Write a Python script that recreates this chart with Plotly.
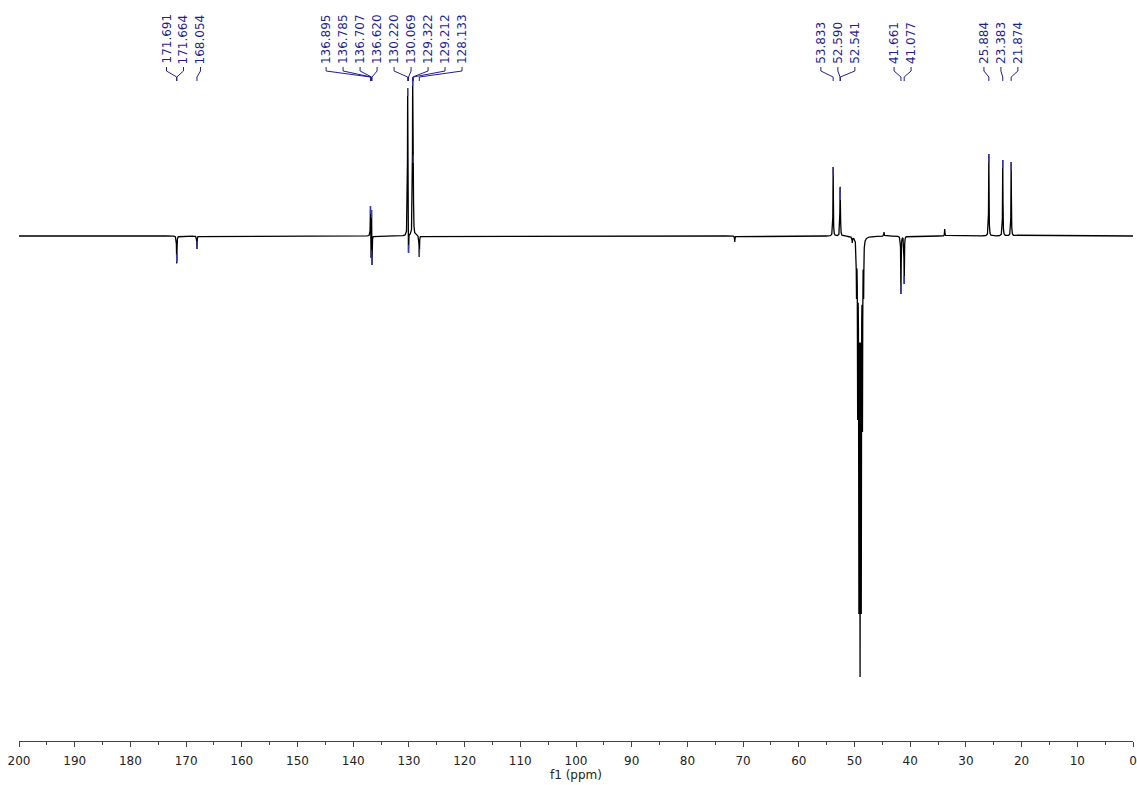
import numpy as np
import plotly.graph_objects as go

# Picked peaks (ppm) and their observed heights (positive = up, negative = inverted)
labeled_ppm = [171.691, 171.664, 168.054,
               136.895, 136.785, 136.707, 136.620,
               130.220, 130.069, 129.322, 129.212, 128.133,
               53.833, 52.590, 52.541,
               41.661, 41.077,
               25.884, 23.383, 21.874]
labeled_height = [-26, -26, -13,
                  30, -22, 26, -29,
                  148, -17, 158, 81, -21,
                  69, 48, 44,
                  -58, -48,
                  82, 76, 74]

# Unlabelled signals: small impurities and the CD3OD septet
other_ppm = [71.50, 50.40,
             49.64, 49.43, 49.21, 49.00, 48.79, 48.57, 48.36,
             44.70, 33.80]
other_height = [-6, -7,
                -63, -184, -378, -441, -378, -196, -63,
                4, 7]

x_ticks = list(range(0, 201, 10))

HWHM = 0.04          # Lorentzian half width (ppm)
LABEL_GAP = 3.05     # minimum label spacing (ppm)
LABEL_COLOR = "#1f1f8f"
MARK_COLOR = "#3b3bb8"

# --- build the spectrum from the peak table ---------------------------------
pk_ppm = np.array(labeled_ppm + other_ppm, dtype=float)
pk_h = np.array(labeled_height + other_height, dtype=float)


def lorentz(d):
    return 1.0 / (1.0 + (d / HWHM) ** 2)


# amplitudes chosen so the summed curve hits each listed height at its position
K = lorentz(pk_ppm[:, None] - pk_ppm[None, :])
amp = np.linalg.solve(K, pk_h)

grid = np.unique(np.concatenate([np.arange(0.0, 200.0001, 0.01), pk_ppm]))
spec = lorentz(grid[:, None] - pk_ppm[None, :]) @ amp


# --- label layout: spread overlapping labels around their cluster mean -------
def spread_labels(positions, gap):
    order = sorted(range(len(positions)), key=lambda i: -positions[i])
    clusters = [[i] for i in order]
    merged = True
    while merged:
        merged = False
        for k in range(len(clusters) - 1):
            a, b = clusters[k], clusters[k + 1]
            ca = np.mean([positions[i] for i in a])
            cb = np.mean([positions[i] for i in b])
            right_of_a = ca - (len(a) - 1) / 2 * gap
            left_of_b = cb + (len(b) - 1) / 2 * gap
            if right_of_a - left_of_b < gap:
                clusters[k] = a + b
                del clusters[k + 1]
                merged = True
                break
    out = [0.0] * len(positions)
    for c in clusters:
        centre = np.mean([positions[i] for i in c])
        n = len(c)
        for k, i in enumerate(c):
            out[i] = centre + ((n - 1) / 2 - k) * gap
    return out


label_pos = spread_labels(labeled_ppm, LABEL_GAP)

fig = go.Figure()

fig.add_trace(go.Scatter(
    x=grid, y=spec, mode="lines",
    line=dict(color="black", width=1.3),
    hoverinfo="skip", showlegend=False,
))

# blue peak-pick marks at the tip of each labelled peak
mx, my = [], []
for p, h in zip(labeled_ppm, labeled_height):
    mx += [p, p, None]
    my += [h, h - np.sign(h) * 8, None]
fig.add_trace(go.Scatter(
    x=mx, y=my, mode="lines",
    line=dict(color=MARK_COLOR, width=1.3),
    hoverinfo="skip", showlegend=False,
))

# connectors from labels to peaks (y2 is in screen rows, top = 0)
cx, cy = [], []
for p, lp in zip(labeled_ppm, label_pos):
    cx += [lp, lp, p, p, None]
    cy += [67, 71, 77, 81, None]
fig.add_trace(go.Scatter(
    x=cx, y=cy, yaxis="y2", mode="lines",
    line=dict(color=LABEL_COLOR, width=1),
    hoverinfo="skip", showlegend=False,
))

for p, lp in zip(labeled_ppm, label_pos):
    fig.add_annotation(
        x=lp, y=65, xref="x", yref="y2",
        text=f"{p:.3f}", textangle=-90,
        xanchor="center", yanchor="bottom",
        showarrow=False, borderpad=0,
        font=dict(family="DejaVu Sans", size=12, color=LABEL_COLOR),
    )

fig.update_layout(
    width=1137, height=785,
    margin=dict(l=19, r=4, t=0, b=44),
    paper_bgcolor="white", plot_bgcolor="white",
    font=dict(family="DejaVu Sans", color="#222"),
    xaxis=dict(
        range=[200, 0], tickvals=x_ticks, ticktext=[str(v) for v in x_ticks],
        showline=True, linecolor="#444", linewidth=1,
        ticks="outside", ticklen=5, tickcolor="#444", tickwidth=1,
        minor=dict(dtick=5, tick0=0, ticks="outside", ticklen=3, tickcolor="#444"),
        showgrid=False, zeroline=False,
        tickfont=dict(size=12, color="#222"),
        ticklabelstandoff=4,
        title=dict(text="f1 (ppm)", font=dict(size=12, color="#222"), standoff=0),
        automargin=False,
    ),
    yaxis=dict(range=[-505, 236], visible=False, showgrid=False, zeroline=False),
    yaxis2=dict(range=[741, 0], overlaying="y", visible=False,
                showgrid=False, zeroline=False),
)

fig.write_html("out.html")
